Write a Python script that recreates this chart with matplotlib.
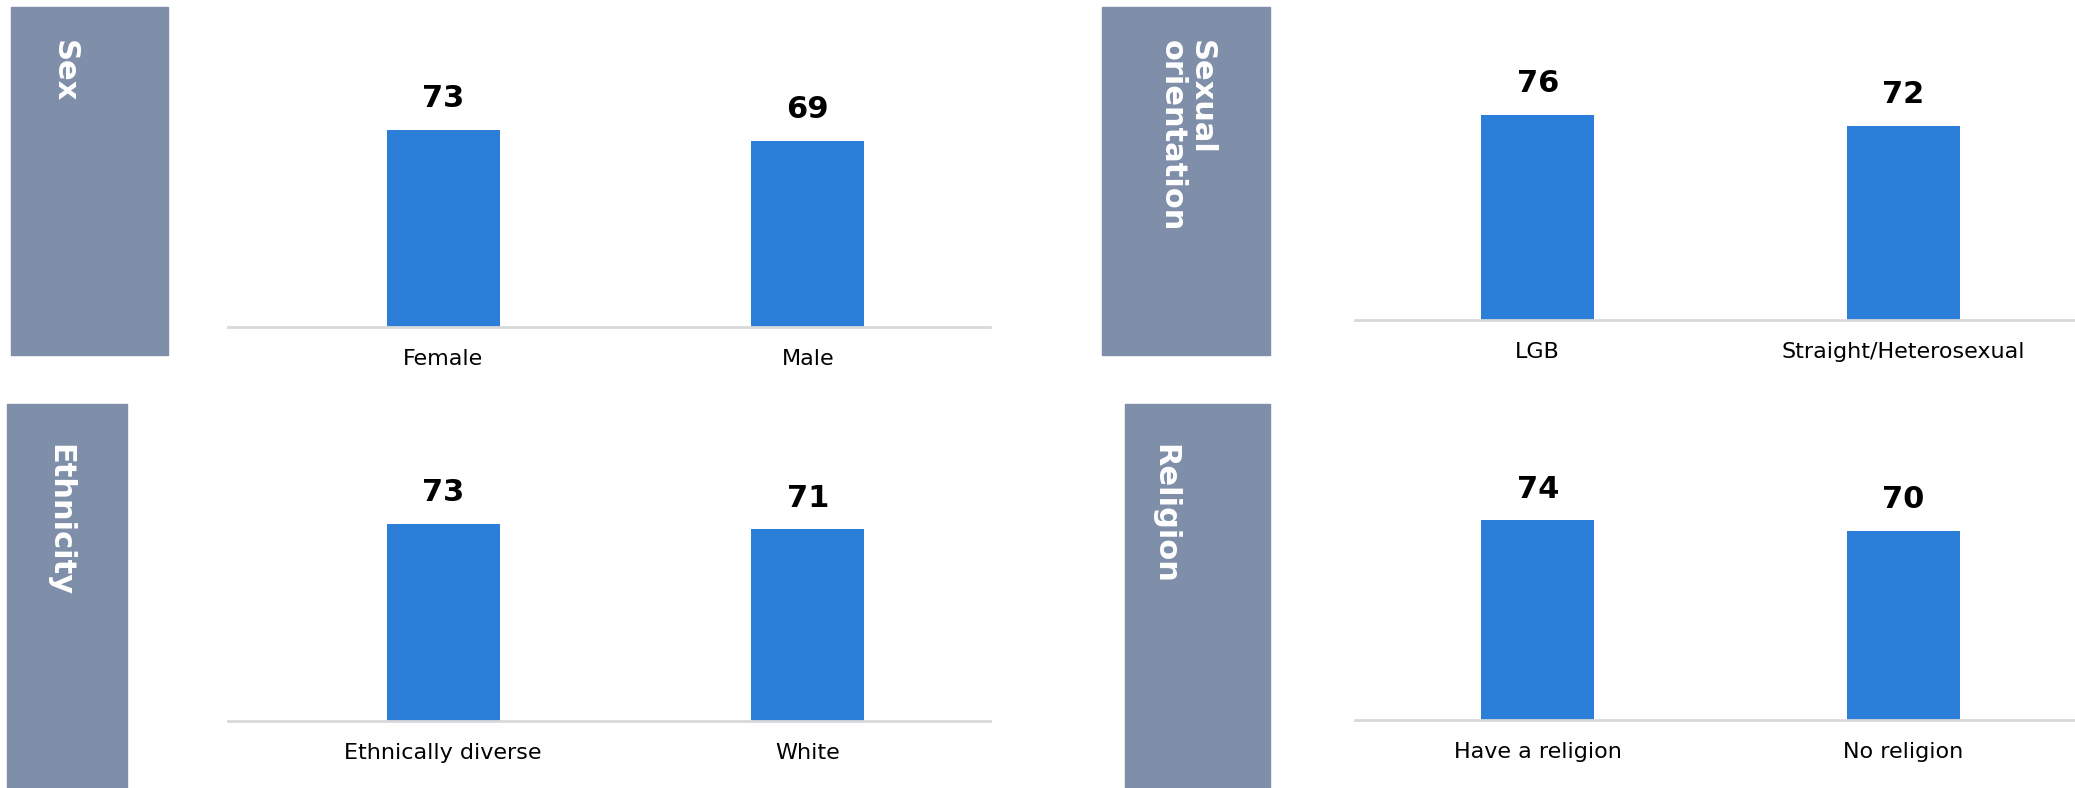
import matplotlib
matplotlib.use("Agg")
import matplotlib.pyplot as plt
from matplotlib.patches import Rectangle

# data
sex_labels = ["Female", "Male"]
sex_values = [73, 69]
orient_labels = ["LGB", "Straight/Heterosexual"]
orient_values = [76, 72]
eth_labels = ["Ethnically diverse", "White"]
eth_values = [73, 71]
rel_labels = ["Have a religion", "No religion"]
rel_values = [74, 70]

W, H = 2075, 788
bar_color = "#2B7FD8"
box_color = "#7F8FA9"

fig = plt.figure(figsize=(W / 100, H / 100), dpi=100)


def px_axes(x0, x1, base, height=270):
    # pixel box (from top-left) -> figure fraction
    return fig.add_axes([x0 / W, (H - base) / H, (x1 - x0) / W, height / H])


def side_box(x0, x1, y0, y1, text, tx, ty):
    fig.patches.append(Rectangle((x0 / W, (H - y1) / H), (x1 - x0) / W, (y1 - y0) / H,
                                 transform=fig.transFigure, color=box_color, zorder=0))
    fig.text(tx / W, (H - ty) / H, text, rotation=-90, color="white", fontsize=22,
             fontweight="bold", ha="center", va="top", linespacing=1.0,
             multialignment="left")


def bar_panel(ax, labels, values, xlim):
    x = range(len(values))
    ax.bar(x, values, width=0.31, color=bar_color)
    for xi, v in zip(x, values):
        ax.annotate(str(v), (xi, v), xytext=(0, 12), textcoords="offset points",
                    ha="center", va="bottom", fontsize=22, fontweight="bold")
    ax.set_xlim(*xlim)
    ax.set_ylim(0, 100)
    ax.set_xticks(list(x))
    ax.set_xticklabels(labels, fontsize=16)
    ax.tick_params(axis="x", length=0, pad=16)
    ax.set_yticks([])
    for s in ["top", "left", "right"]:
        ax.spines[s].set_visible(False)
    ax.spines["bottom"].set_color("#D9D9D9")
    ax.spines["bottom"].set_linewidth(2)
    ax.patch.set_alpha(0)


side_box(11, 168, 7, 355, "Sex", 64, 40)
side_box(1102, 1270, 7, 355, "Sexual\norientation", 1187, 40)
side_box(7, 127, 404, 790, "Ethnicity", 60, 444)
side_box(1125, 1270, 404, 790, "Religion", 1165, 444)

ax1 = px_axes(228, 990, 327)
bar_panel(ax1, sex_labels, sex_values, (-0.59, 1.50))
ax2 = px_axes(1355, 2075, 320)
bar_panel(ax2, orient_labels, orient_values, (-0.5, 1.47))
ax3 = px_axes(228, 990, 721)
bar_panel(ax3, eth_labels, eth_values, (-0.59, 1.50))
ax4 = px_axes(1355, 2075, 720)
bar_panel(ax4, rel_labels, rel_values, (-0.5, 1.47))

fig.savefig("out.png", dpi=100)
